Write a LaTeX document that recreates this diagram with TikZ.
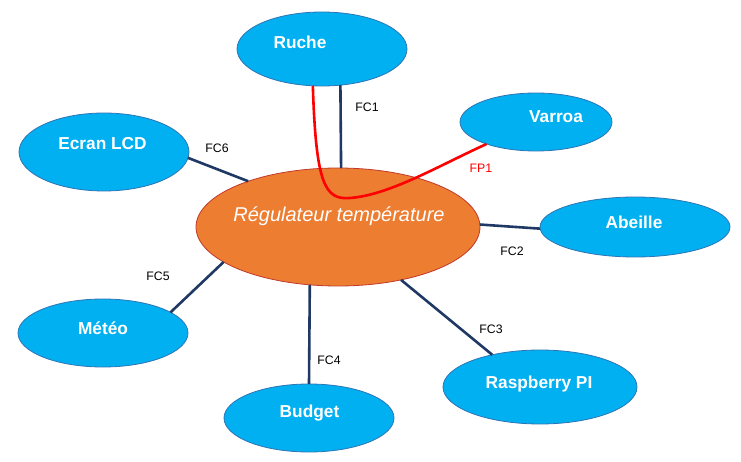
\documentclass[tikz,border=0pt]{standalone}
\usepackage{fontspec}
\setmainfont{Liberation Sans}
\usetikzlibrary{shapes.geometric}
\definecolor{bluefill}{HTML}{00B0F0}
\definecolor{blueline}{HTML}{2E75B6}
\definecolor{orangefill}{HTML}{ED7D31}
\definecolor{orangeline}{HTML}{C0392B}
\definecolor{navy}{HTML}{203864}
\definecolor{fpred}{HTML}{FF0000}
\begin{document}
\begin{tikzpicture}[x=1pt,y=-1pt,
  item/.style={ellipse, draw=blueline, line width=0.8pt, fill=bluefill, inner sep=0pt, outer sep=0pt},
  main/.style={ellipse, draw=orangeline, line width=0.8pt, fill=orangefill, inner sep=0pt, outer sep=0pt},
  itemtext/.style={text=white, font=\fontsize{17.3}{20}\selectfont\bfseries, inner sep=0pt, anchor=base},
  maintext/.style={text=white, font=\fontsize{20}{24}\selectfont\itshape, inner sep=0pt, anchor=base},
  link/.style={navy, line width=2.6pt},
  fp/.style={fpred, line width=2.6pt},
  lbl/.style={font=\fontsize{12.3}{14}\selectfont, inner sep=0pt, anchor=base},
  fplbl/.style={lbl, text=fpred}]
\useasboundingbox (0,0) rectangle (741,462);
% ellipses
\node[item, minimum width=170pt, minimum height=74pt] (ruche) at (322,49) {};
\node[item, minimum width=152pt, minimum height=58pt] (varroa) at (536,122) {};
\node[item, minimum width=170pt, minimum height=78pt] (ecran) at (104,152) {};
\node[main, minimum width=284pt, minimum height=118pt] (reg) at (338,227) {};
\node[item, minimum width=190pt, minimum height=60pt] (abeille) at (635,227) {};
\node[item, minimum width=170pt, minimum height=68pt] (meteo) at (103,333) {};
\node[item, minimum width=170pt, minimum height=68pt] (budget) at (309,418) {};
\node[item, minimum width=194pt, minimum height=74pt] (rasp) at (540,387) {};
% texts
\node[itemtext] (ruche-t) at (300,49) {Ruche};
\node[itemtext] (varroa-t) at (556,123) {Varroa};
\node[itemtext] (ecran-t) at (102.5,150) {Ecran LCD};
\node[maintext] (reg-t) at (339,222) {Régulateur température};
\node[itemtext] (abeille-t) at (634,229) {Abeille};
\node[itemtext] (meteo-t) at (103,334) {Météo};
\node[itemtext] (budget-t) at (309.5,417) {Budget};
\node[itemtext] (rasp-t) at (539,388) {Raspberry PI};
% connectors
\draw[link] (ruche.-63) -- (reg.87);
\draw[link] (ecran.-4) -- (reg.153);
\draw[link] (reg.1) -- (abeille.181);
\draw[link] (reg.197) -- (meteo.17);
\draw[link] (reg.244) -- (budget.90);
\draw[link] (reg.-40) -- (rasp.146);
\draw[fp] (ruche.-104) .. controls (316,185) and (325,200) .. (350,198)
  .. controls (390,195) and (440,165) .. (varroa.204);
% labels
\node[lbl] (l1) at (367,112) {FC1};
\node[lbl] (l6) at (217,153) {FC6};
\node[lbl] (l2) at (512,256) {FC2};
\node[lbl] (l5) at (158,280) {FC5};
\node[lbl] (l4) at (329,364) {FC4};
\node[lbl] (l3) at (491,333) {FC3};
\node[fplbl] (lp) at (481,173) {FP1};
\end{tikzpicture}
\end{document}
